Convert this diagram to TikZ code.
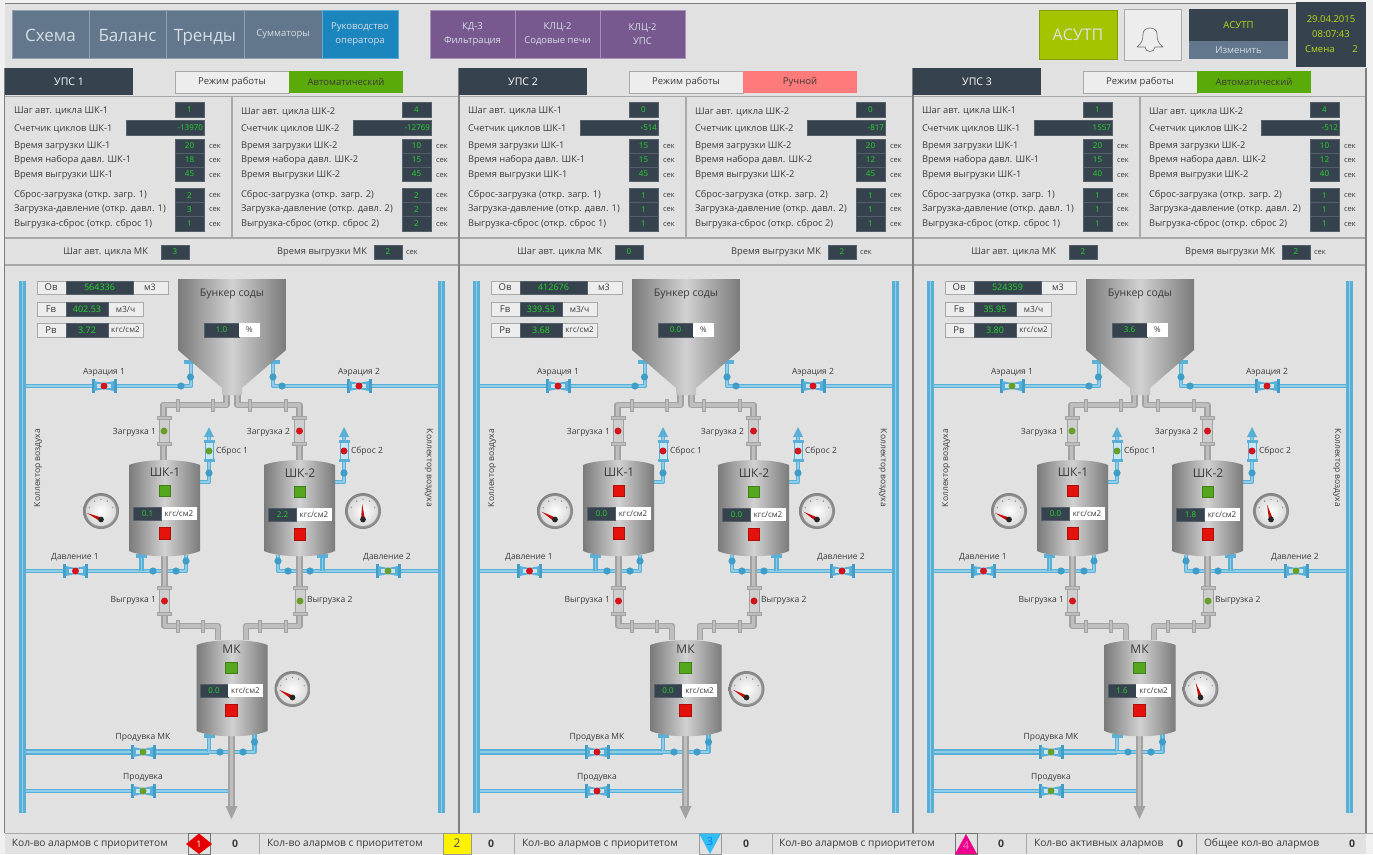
\documentclass[tikz,border=0pt]{standalone}
\usepackage{fontspec}
\setmainfont{Open Sans}
\definecolor{bgc}{HTML}{E1E1E1}
\definecolor{navc}{HTML}{62778C}
\definecolor{navt}{HTML}{D5DEE6}
\definecolor{blubtn}{HTML}{1B85BE}
\definecolor{purp}{HTML}{77588F}
\definecolor{lime}{HTML}{A5C400}
\definecolor{darkc}{HTML}{36434F}
\definecolor{limet}{HTML}{B9DC10}
\definecolor{lineg}{HTML}{A9A9A9}
\definecolor{lined}{HTML}{7F7F7F}
\definecolor{modeg}{HTML}{5AAB0A}
\definecolor{moder}{HTML}{FF7A7A}
\definecolor{txtc}{HTML}{3A3A3A}
\definecolor{valg}{HTML}{25D82A}
\definecolor{pb}{HTML}{5AAFD6}
\definecolor{pbl}{HTML}{8FCDE8}
\definecolor{pbd}{HTML}{3F9DC8}
\definecolor{pg}{HTML}{A2A2A2}
\definecolor{pgl}{HTML}{BEBEBE}
\definecolor{vr}{HTML}{D4141C}
\definecolor{vg}{HTML}{689E2A}
\definecolor{sqg}{HTML}{55A81E}
\definecolor{sqr}{HTML}{E5120C}
\tikzset{
 fs/.style={font=\fontsize{#1}{14}\selectfont},
 txt/.style={inner sep=0pt,outer sep=0pt,text=txtc,fs=9.3},
 bx/.style={rectangle,inner sep=0pt,outer sep=0pt},
 nav/.style={fill=navc,draw=navc!70!white,line width=.6pt,text=navt},
 bigt/.style={fs=17,text height=15pt,text depth=0pt},
 purpb/.style={fill=purp,draw=purp!65!white,line width=.6pt,text=navt,fs=9.5,align=center},
 dark/.style={fill=darkc,draw=darkc!85!white,line width=.4pt,text=valg,fs=8},
 wht/.style={fill=white,text=txtc,fs=8},
 framed/.style={fill=bgc!60!white,draw=lineg,line width=.8pt},
 coll/.style={draw=pb,line width=3pt,double=pbl,double distance=1.2pt},
 bpipe/.style={draw=pb,line width=1.5pt,double=pbl,double distance=1.5pt,line join=round},
 bpipeT/.style={draw=pb,line width=2pt,double=pbl,double distance=1.6pt},
 gpipe/.style={draw=pg,line width=1.5pt,double=pgl,double distance=3.5pt,line join=round},
 sq/.style={rectangle,minimum size=11.5pt,inner sep=0pt,draw=black!25!#1,line width=.6pt,fill=#1},
 vdot/.style={circle,minimum size=7pt,inner sep=0pt,fill=#1},
 tankf/.style={left color=black!52,right color=black!52,middle color=black!18},
 plain/.style={inner sep=0pt,outer sep=0pt},
}
\newcount\nid
\newcommand\T[4][]{\global\advance\nid by 1 \node[txt,#1] (t\the\nid) at (#2,#3) {#4};}
\newcommand\BX[6][]{\global\advance\nid by 1
 \pgfmathsetmacro\bw{(#4)-(#2)}\pgfmathsetmacro\bh{(#5)-(#3)}\pgfmathsetmacro\bcx{((#2)+(#4))/2}\pgfmathsetmacro\bcy{((#3)+(#5))/2}
 \node[bx,minimum width=\bw pt,minimum height=\bh pt,#1] (t\the\nid) at (\bcx,\bcy) {#6};}
% --- parameter column
\newcommand\paramcol[9]{%
 \T[anchor=west]{14}{111.5}{Шаг авт. цикла ШК-#1}
 \T[anchor=west]{14}{128.5}{Счетчик циклов ШК-#1}
 \T[anchor=west]{14}{146.5}{Время загрузки ШК-#1}
 \T[anchor=west]{14}{160.5}{Время набора давл. ШК-#1}
 \T[anchor=west]{14}{175}{Время выгрузки ШК-#1}
 \T[anchor=west]{14}{195.5}{Сброс-загрузка (откр. загр. #1)}
 \T[anchor=west]{14}{209.5}{Загрузка-давление (откр. давл. #1)}
 \T[anchor=west]{14}{224.5}{Выгрузка-сброс (откр. сброс #1)}
 \BX[dark]{175}{102}{204}{117}{#2}
 \BX[dark]{126}{120}{204}{135}{}
 \T[text=valg,anchor=east,fs=8]{203}{128}{#3}
 \BX[dark]{175}{139}{204}{153}{#4}
 \BX[dark]{175}{153}{204}{167}{#5}
 \BX[dark]{175}{167}{204}{181}{#6}
 \BX[dark]{175}{188}{204}{202.5}{#7}
 \BX[dark]{175}{202.5}{204}{216.5}{#8}
 \BX[dark]{175}{216.5}{204}{231}{#9}
 \T[anchor=west,fs=7.5]{209}{146}{сек}
 \T[anchor=west,fs=7.5]{209}{160}{сек}
 \T[anchor=west,fs=7.5]{209}{175}{сек}
 \T[anchor=west,fs=7.5]{209}{195}{сек}
 \T[anchor=west,fs=7.5]{209}{209}{сек}
 \T[anchor=west,fs=7.5]{209}{224}{сек}
}
% --- header of a panel: title, mode text, mode colour
\newcommand\head[3]{%
 \BX[fill=darkc,text=white,fs=10.5]{5}{68}{133}{95}{#1}
 \BX[framed,fs=9.5,text=txtc]{175}{71}{289}{93}{Режим работы}
 \BX[fill=#3,text=txtc,fs=9.5]{289}{71}{403}{93}{#2}
 \coordinate (\P-v1) at (232,97); \coordinate (\P-v2) at (232,238);
 \draw[lineg,line width=1.2pt] (\P-v1) -- (\P-v2);
}
\newcommand\mkrow[2]{%
 \T[anchor=east]{148}{252.5}{Шаг авт. цикла МК}
 \BX[dark]{161}{245}{189}{259}{#1}
 \T[anchor=east]{367}{252.5}{Время выгрузки МК}
 \BX[dark]{374}{245}{402}{259}{#2}
 \T[anchor=west,fs=7.5]{406}{252}{сек}
}
\newcommand\jb[2]{\fill[pbd] (#1,#2) circle (3.6pt);}
\newcommand\fgv[2]{\fill[pgl,draw=pg,line width=.7pt] (#1-1.8,#2-6) rectangle (#1+1.8,#2+6);}
\newcommand\fbh[2]{\fill[pb] (#1-5.5,#2-1.6) rectangle (#1+5.5,#2+1.6);}
% horizontal air valve
\newcommand\hvalve[4]{%
 \fill[pbd] (#1-12.5,#2-7) rectangle (#1-9.5,#2+7);
 \fill[pbd] (#1+9.5,#2-7) rectangle (#1+12.5,#2+7);
 \fill[pb] (#1-10,#2-5) -- (#1,#2-3) -- (#1+10,#2-5) -- (#1+10,#2+5) -- (#1,#2+3) -- (#1-10,#2+5) -- cycle;
 \fill[pbl!50!white] (#1-7,#2-2.2) rectangle (#1+7,#2+2.2);
 \node[vdot=#3] (\P-#4) at (#1,#2) {};
}
% vertical solids valve
\newcommand\gvalve[4]{%
 \fill[pgl!75!white,draw=pg,line width=.5pt] (#1-5,#2-13) rectangle (#1+5,#2+13);
 \fill[pgl,draw=pg,line width=.6pt] (#1-7,#2-14.5) rectangle (#1+7,#2-11.5);
 \fill[pgl,draw=pg,line width=.6pt] (#1-7,#2+11.5) rectangle (#1+7,#2+14.5);
 \node[vdot=#3] (\P-#4) at (#1,#2) {};
}
% vent valve
\newcommand\svalve[4]{%
 \fill[pbl!50!white,draw=pb,line width=.6pt] (#1-4,#2-10) rectangle (#1+4,#2+10);
 \fbh{#1}{#2-9.5}\fbh{#1}{#2+9.5}
 \node[vdot=#3] (\P-#4) at (#1,#2) {};
}
% gauge: centre x, y, needle angle
\newcommand\gauge[3]{%
 \shade[inner color=white,outer color=black!50] (#1,#2) circle (18pt);
 \shade[inner color=white,outer color=black!15] (#1,#2) circle (15pt);
 \foreach \ta in {20,60,90,120,160}{
   \pgfmathsetmacro\tkx{#1+12.5*cos(\ta)}\pgfmathsetmacro\tky{#2-12.5*sin(\ta)+1}
   \fill[black!50] (\tkx,\tky) circle (.7pt);}
 \pgfmathsetmacro\hy{#2+8.5}
 \pgfmathsetmacro\nx{#1+15.5*cos(#3)}\pgfmathsetmacro\ny{\hy-15.5*sin(#3)}
 \pgfmathsetmacro\ax{#1+2*cos(#3+90)}\pgfmathsetmacro\ay{\hy-2*sin(#3+90)}
 \pgfmathsetmacro\bx{#1+2*cos(#3-90)}\pgfmathsetmacro\by{\hy-2*sin(#3-90)}
 \fill[sqr!85!black] (\ax,\ay) -- (\nx,\ny) -- (\bx,\by) -- cycle;
 \fill[black!85] (#1,\hy) circle (2.9pt);
}
\newcommand\tank[3]{%
 \coordinate (\P-#3) at (#1,#2+50);
 \shade[tankf] (#1-35.5,#2+8) .. controls (#1-20,#2+1.5) and (#1+20,#2+1.5) .. (#1+35.5,#2+8)
   -- (#1+35.5,#2+94) .. controls (#1+20,#2+101) and (#1-20,#2+101) .. (#1-35.5,#2+94) -- cycle;
}
\newcommand\pipes{%
 \coordinate (\P-cL1) at (22.5,281); \coordinate (\P-cL2) at (22.5,813);
 \coordinate (\P-cR1) at (441.5,281); \coordinate (\P-cR2) at (441.5,813);
 \coordinate (\P-aL) at (26,386); \coordinate (\P-aLe) at (191,386); \coordinate (\P-aLt) at (191,358);
 \coordinate (\P-aR) at (438,386); \coordinate (\P-aRe) at (273,386); \coordinate (\P-aRt) at (273,358);
 \coordinate (\P-dL) at (26,571); \coordinate (\P-dLe) at (186,571); \coordinate (\P-dLt) at (186,555);
 \coordinate (\P-dLs) at (141.5,571); \coordinate (\P-dLu) at (141.5,554);
 \coordinate (\P-dR) at (438,571); \coordinate (\P-dRe) at (278,571); \coordinate (\P-dRt) at (278,555);
 \coordinate (\P-dRs) at (322.5,571); \coordinate (\P-dRu) at (322.5,554);
 \coordinate (\P-pL) at (26,752); \coordinate (\P-pLs) at (209,752); \coordinate (\P-pLu) at (209,733);
 \coordinate (\P-pLe) at (254.5,752); \coordinate (\P-pLt) at (254.5,733);
 \coordinate (\P-qL) at (26,791); \coordinate (\P-qE) at (229,791);
 \coordinate (\P-s1a) at (199,482); \coordinate (\P-s1e) at (209,482); \coordinate (\P-s1t) at (209,436);
 \coordinate (\P-s2a) at (334,482); \coordinate (\P-s2e) at (344,482); \coordinate (\P-s2t) at (344,436);
 % gray pipes
 \coordinate (\P-hL) at (226.5,390); \coordinate (\P-hLe) at (163.5,405); \coordinate (\P-sk1t) at (163.5,460);
 \coordinate (\P-hR) at (237.5,390); \coordinate (\P-hRe) at (299.5,405); \coordinate (\P-sk2t) at (299.5,460);
 \coordinate (\P-sk1b) at (164.5,553); \coordinate (\P-oLe) at (164.5,626); \coordinate (\P-mkL) at (218,640);
 \coordinate (\P-sk2b) at (299.5,553); \coordinate (\P-oRe) at (299.5,626); \coordinate (\P-mkR) at (246,640);
 \coordinate (\P-mkb) at (231.5,733); \coordinate (\P-mko) at (231.5,808);
 \draw[coll] (\P-cL1) -- (\P-cL2);
 \draw[coll] (\P-cR1) -- (\P-cR2);
 \draw[bpipe] (\P-aL) -- (\P-aLe) -- (\P-aLt);
 \draw[bpipe] (\P-aR) -- (\P-aRe) -- (\P-aRt);
 \draw[bpipe] (\P-dL) -- (\P-dLe) -- (\P-dLt);
 \draw[bpipe] (\P-dLs) -- (\P-dLu);
 \draw[bpipe] (\P-dR) -- (\P-dRe) -- (\P-dRt);
 \draw[bpipe] (\P-dRs) -- (\P-dRu);
 \draw[bpipeT] (\P-pL) -- (\P-pLs);
 \draw[bpipe] (\P-pLs) -- (\P-pLu);
 \draw[bpipe] (\P-pLs) -- (\P-pLe) -- (\P-pLt);
 \draw[bpipe] (\P-qL) -- (\P-qE);
 \draw[bpipe] (\P-s1a) -- (\P-s1e) -- (\P-s1t);
 \draw[bpipe] (\P-s2a) -- (\P-s2e) -- (\P-s2t);
 \fill[pb] (204,437) -- (214,437) -- (209,427) -- cycle;
 \fill[pb] (339,437) -- (349,437) -- (344,427) -- cycle;
 \draw[gpipe] (\P-hL) |- (\P-hLe) -- (\P-sk1t);
 \draw[gpipe] (\P-hR) |- (\P-hRe) -- (\P-sk2t);
 \draw[gpipe] (\P-sk1b) -- (\P-oLe) -| (\P-mkL);
 \draw[gpipe] (\P-sk2b) -- (\P-oRe) -| (\P-mkR);
 \draw[gpipe] (\P-mkb) -- (\P-mko);
 \fill[pg] (225.5,806) -- (237.5,806) -- (231.5,819) -- cycle;
 \fgv{178}{405}\fgv{213}{405}\fgv{250}{405}\fgv{286}{405}
 \fgv{178}{626}\fgv{203}{626}\fgv{260}{626}\fgv{286}{626}
 \jb{181}{386}\jb{190.5}{377}\fbh{189}{362}
 \jb{282}{386}\jb{273}{377}\fbh{274}{362}
 \jb{153}{571}\jb{176}{571}\jb{186}{561}\fbh{141.5}{556}
 \jb{288}{571}\jb{310}{571}\jb{278}{561}\fbh{322.5}{556}
 \jb{220}{752}\jb{243}{752}\jb{254.5}{742}\fbh{209}{736}
 \jb{209}{473}\jb{344}{473}
}
\newcommand\hopper[1]{%
 \coordinate (\P-hop) at (232,330);
 \shade[tankf] (178,279) -- (286,279) -- (286,350) -- (242,388) -- (242,395) -- (222,395) -- (222,388) -- (178,350) -- cycle;
 \T[fs=10.5]{232}{294}{Бункер соды}
 \BX[dark]{204}{323}{239}{337}{#1}
 \BX[wht]{239}{323}{260}{337}{\%}
}
\newcommand\infobox[3]{%
 \BX[framed]{37}{281}{168}{294}{}
 \T[fs=9.5]{51}{287.5}{Ов}
 \BX[dark,fs=9]{66}{281}{133}{294}{#1}
 \T[fs=9]{150}{287.5}{м3}
 \BX[framed]{37}{302}{143}{316}{}
 \T[fs=9.5]{51}{309}{Fв}
 \BX[dark,fs=9]{66}{302}{108}{316}{#2}
 \T[fs=8.5]{125.5}{309}{м3/ч}
 \BX[framed]{37}{323}{143}{337}{}
 \T[fs=9.5]{51}{330}{Рв}
 \BX[dark,fs=9]{66}{323}{108}{337}{#3}
 \T[fs=8]{125.5}{330}{кгс/см2}
}
% tank contents
\newcommand\tankin[7]{%
 \T[fs=12]{#1}{#2}{#3}
 \node[sq=#4,plain] (\P-#7a) at (#1,#2+19) {};
 \BX[dark]{#1-31.5}{#2+35}{#1-3.5}{#2+48}{#5}
 \BX[wht]{#1-3.5}{#2+35}{#1+31.5}{#2+48}{кгс/см2}
 \node[sq=#6,plain] (\P-#7b) at (#1,#2+61.5) {};
}
\newcommand\labels{%
 \T[fs=8.5]{104}{372}{Аэрация 1}
 \T[fs=8.5]{359}{372}{Аэрация 2}
 \T[fs=8.5,anchor=east]{156}{432}{Загрузка 1}
 \T[fs=8.5,anchor=east]{290}{432}{Загрузка 2}
 \T[fs=8.5,anchor=west]{216}{451}{Сброс 1}
 \T[fs=8.5,anchor=west]{351}{451}{Сброс 2}
 \T[fs=8.5]{75}{557}{Давление 1}
 \T[fs=8.5]{387}{557}{Давление 2}
 \T[fs=8.5,anchor=east]{156}{600}{Выгрузка 1}
 \T[fs=8.5,anchor=west]{307}{600}{Выгрузка 2}
 \T[fs=8.5]{143}{737}{Продувка МК}
 \T[fs=8.5]{143}{777}{Продувка}
 \T[fs=8.5,rotate=90]{38}{468}{Коллектор воздуха}
 \T[fs=8.5,rotate=-90]{429}{468}{Коллектор воздуха}
}
\newcommand\valvesA[6]{%
 \hvalve{104}{386}{#1}{aer1}\hvalve{359}{386}{#2}{aer2}
 \gvalve{164}{431}{#3}{zag1}\gvalve{299.5}{431}{#4}{zag2}
 \svalve{209}{451}{#5}{sbr1}\svalve{344}{451}{#6}{sbr2}
}
\newcommand\valvesB[6]{%
 \hvalve{75.5}{571}{#1}{dav1}\hvalve{388}{571}{#2}{dav2}
 \gvalve{164.5}{601}{#3}{vyg1}\gvalve{300}{601}{#4}{vyg2}
 \hvalve{143}{752}{#5}{prm}\hvalve{143}{791}{#6}{pro}
}
\newcommand\scheme{\pipes\labels
 \tank{164.5}{457}{sk1}\tank{299.5}{457}{sk2}\tank{232}{637}{mk}}
\begin{document}
\begin{tikzpicture}[x=1pt,y=-1pt]
\useasboundingbox (0,0) rectangle (1373,854);
\fill[white!94!black] (0,0) rectangle (1373,854);
\fill[bgc] (5,3) rectangle (1366,854);
\coordinate (frTL) at (4.5,3); \coordinate (frTR) at (1366,3);
\draw[lined,line width=1pt] (frTL) -- (frTR);
% navigation
\BX[nav,bigt]{12}{10}{89}{58}{Схема}
\BX[nav,bigt]{89}{10}{166}{58}{Баланс}
\BX[nav,bigt]{166}{10}{244}{58}{Тренды}
\BX[nav,fs=9.5]{244}{10}{322}{58}{Сумматоры}
\BX[fill=blubtn,draw=blubtn!70!white,line width=.6pt,text=navt,fs=9.5,align=center]{322}{10}{398}{58}{Руководство\\оператора}
\BX[purpb]{430}{10}{515}{58}{КД-3\\Фильтрация}
\BX[purpb]{515}{10}{600}{58}{КЛЦ-2\\Содовые печи}
\BX[purpb]{600}{10}{685}{58}{КЛЦ-2\\УПС}
\BX[fill=lime,draw=lime!80!black,line width=.6pt,text=bgc,fs=16]{1039}{10}{1117}{59}{АСУТП}
\BX[fill=bgc!60!white,draw=lineg,line width=.8pt]{1124}{9}{1181}{60}{}
\draw[black!55,line width=.7pt,line join=round] (1137,47) .. controls (1142,43) and (1143,40) .. (1143,34)
  .. controls (1143,26) and (1157,26) .. (1157,34) .. controls (1157,40) and (1158,43) .. (1163,47)
  -- (1155,47) .. controls (1155,53) and (1145,53) .. (1145,47) -- cycle;
\BX[fill=darkc,text=limet,fs=9.5]{1189}{9}{1288}{41}{АСУТП}
\BX[fill=navc,text=navt,fs=9.5]{1189}{41}{1288}{59}{Изменить}
\BX[fill=darkc,text=limet,fs=9.5,align=center]{1296}{2}{1366}{67}{}
\T[text=limet,fs=9.5]{1331}{19}{29.04.2015}
\T[text=limet,fs=9.5]{1331}{34}{08:07:43}
\T[text=limet,fs=9.5,anchor=west]{1305}{49}{Смена}
\T[text=limet,fs=9.5]{1355}{49}{2}
% panel frame lines
\coordinate (h1a) at (5,96.5); \coordinate (h1b) at (1366,96.5);
\coordinate (h2a) at (5,238); \coordinate (h2b) at (1366,238);
\coordinate (h3a) at (5,265); \coordinate (h3b) at (1366,265);
\draw[lineg,line width=1.2pt] (h1a) -- (h1b);
\draw[lineg,line width=1.2pt] (h2a) -- (h2b);
\draw[lineg,line width=1.2pt] (h3a) -- (h3b);
\coordinate (v0a) at (4.5,68); \coordinate (v0b) at (4.5,833);
\coordinate (v1a) at (459,68); \coordinate (v1b) at (459,833);
\coordinate (v2a) at (913,68); \coordinate (v2b) at (913,833);
\coordinate (v3a) at (1366,68); \coordinate (v3b) at (1366,833);
\draw[lined,line width=1.4pt] (v0a) -- (v0b);
\draw[lined,line width=1.4pt] (v1a) -- (v1b);
\draw[lined,line width=1.4pt] (v2a) -- (v2b);
\draw[lined,line width=1.4pt] (v3a) -- (v3b);
% ===== panel 1
\begin{scope}
\def\P{a}
\head{УПС 1}{Автоматический}{modeg}
\paramcol{1}{1}{-13970}{20}{18}{45}{2}{3}{1}
\begin{scope}[shift={(227,0)}]\paramcol{2}{4}{-12769}{10}{15}{45}{2}{2}{2}\end{scope}
\mkrow{3}{2}
\scheme
\hopper{1.0}
\infobox{564336}{402.53}{3.72}
\tankin{165}{472}{ШК-1}{sqg}{0.1}{sqr}{s}
\tankin{300}{473}{ШК-2}{sqg}{2.2}{sqr}{t}
\tankin{231.5}{649}{МК}{sqg}{0.0}{sqr}{m}
\gauge{101}{511}{155}\gauge{363}{511}{93}\gauge{292.5}{689}{150}
\valvesA{vr}{vr}{vg}{vr}{vg}{vr}
\valvesB{vr}{vg}{vr}{vg}{vg}{vg}
\end{scope}
% ===== panel 2
\begin{scope}[shift={(454,0)}]
\def\P{b}
\head{УПС 2}{Ручной}{moder}
\paramcol{1}{0}{-514}{15}{15}{45}{1}{1}{1}
\begin{scope}[shift={(227,0)}]\paramcol{2}{0}{-817}{20}{12}{45}{1}{1}{1}\end{scope}
\mkrow{0}{2}
\scheme
\hopper{0.0}
\infobox{412676}{339.53}{3.68}
\tankin{165}{472}{ШК-1}{sqr}{0.0}{sqr}{s}
\tankin{300}{473}{ШК-2}{sqg}{0.0}{sqr}{t}
\tankin{231.5}{649}{МК}{sqg}{0.0}{sqr}{m}
\gauge{101}{511}{150}\gauge{363}{511}{150}\gauge{292.5}{689}{150}
\valvesA{vr}{vr}{vr}{vr}{vr}{vr}
\valvesB{vr}{vr}{vr}{vr}{vr}{vr}
\end{scope}
% ===== panel 3
\begin{scope}[shift={(908,0)}]
\def\P{c}
\head{УПС 3}{Автоматический}{modeg}
\paramcol{1}{1}{1557}{20}{15}{40}{1}{1}{1}
\begin{scope}[shift={(227,0)}]\paramcol{2}{4}{-512}{10}{12}{40}{1}{1}{1}\end{scope}
\mkrow{2}{2}
\scheme
\hopper{3.6}
\infobox{524359}{35.95}{3.80}
\tankin{165}{472}{ШК-1}{sqr}{0.0}{sqr}{s}
\tankin{300}{473}{ШК-2}{sqg}{1.8}{sqr}{t}
\tankin{231.5}{649}{МК}{sqg}{1.6}{sqr}{m}
\gauge{101}{511}{155}\gauge{363}{511}{105}\gauge{292.5}{689}{108}
\valvesA{vg}{vr}{vg}{vr}{vg}{vr}
\valvesB{vr}{vg}{vr}{vg}{vg}{vg}
\end{scope}
% ===== status bar
\coordinate (sbA) at (5,833); \coordinate (sbB) at (1373,833);
\draw[lineg,line width=1pt] (sbA) -- (sbB);
\T[anchor=west,fs=10.2]{12}{844}{Кол-во алармов с приоритетом}
\BX[draw=black!55,line width=.8pt]{188}{833}{210}{854}{}
\fill[red!90!black] (199,833.5) -- (212,844) -- (199,854) -- (186,844) -- cycle;
\T[text=white,fs=9]{199}{844}{1}
\T[font=\fontsize{10.5}{14}\selectfont\bfseries]{235}{844}{0}
\T[anchor=west,fs=10.2]{267}{844}{Кол-во алармов с приоритетом}
\BX[fill=yellow,draw=black!40,line width=.5pt,fs=12,text=black!70]{443}{833}{471}{854}{2}
\T[font=\fontsize{10.5}{14}\selectfont\bfseries]{491}{844}{0}
\T[anchor=west,fs=10.2]{522}{844}{Кол-во алармов с приоритетом}
\BX[draw=black!40,line width=.8pt]{699}{833}{721}{854}{}
\fill[cyan!80!white] (699,833.5) -- (721,833.5) -- (710,854) -- cycle;
\T[text=blue!50!cyan,fs=11]{710}{842}{3}
\T[font=\fontsize{10.5}{14}\selectfont\bfseries]{746}{844}{0}
\T[anchor=west,fs=10.2]{779}{844}{Кол-во алармов с приоритетом}
\BX[draw=black!55,line width=.8pt]{955}{833}{977}{854}{}
\fill[magenta] (966,834) -- (977,854) -- (955,854) -- cycle;
\T[text=magenta!50!white,fs=11]{966}{846}{4}
\T[font=\fontsize{10.5}{14}\selectfont\bfseries]{1001}{844}{0}
\T[anchor=west,fs=10.2]{1034}{844}{Кол-во активных алармов}
\T[font=\fontsize{10.5}{14}\selectfont\bfseries]{1180}{844}{0}
\T[anchor=west,fs=10.2]{1204}{844}{Общее кол-во алармов}
\T[font=\fontsize{10.5}{14}\selectfont\bfseries]{1352}{844}{0}
\foreach \sx/\sn in {259/a,514/b,772/c,1026/d,1196/e}{
  \coordinate (sep\sn a) at (\sx,833); \coordinate (sep\sn b) at (\sx,854);
  \draw[lineg,line width=.8pt] (sep\sn a) -- (sep\sn b);}
\end{tikzpicture}
\end{document}
